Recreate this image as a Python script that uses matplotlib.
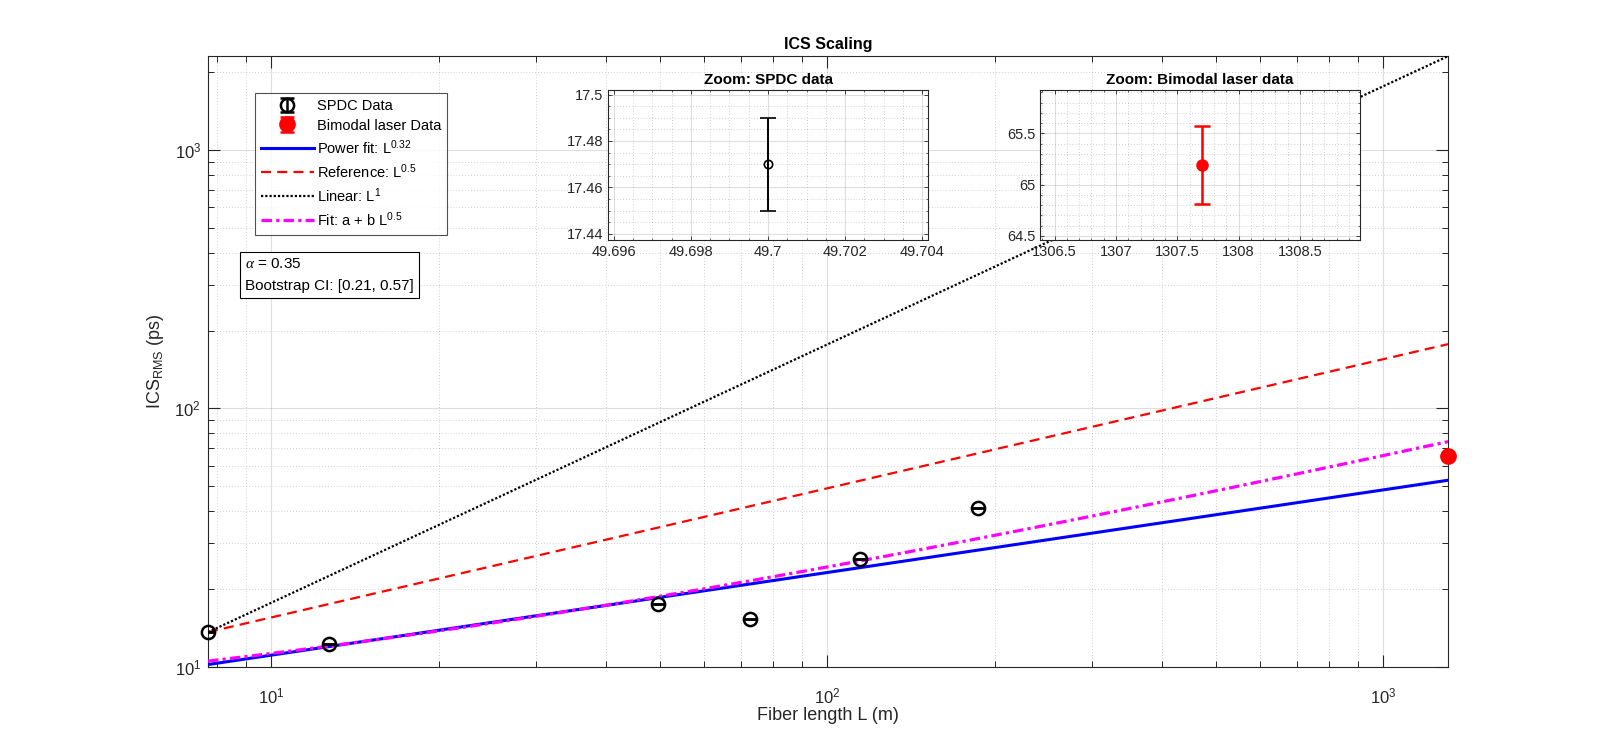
import numpy as np
import matplotlib
matplotlib.use("Agg")
import matplotlib.pyplot as plt
from matplotlib.ticker import LogLocator, AutoMinorLocator, NullFormatter, FixedLocator

plt.rcParams['font.family'] = ['Liberation Sans', 'DejaVu Sans']
plt.rcParams['mathtext.default'] = 'regular'
plt.rcParams['mathtext.fontset'] = 'custom'
plt.rcParams['mathtext.rm'] = 'Liberation Sans'
plt.rcParams['mathtext.it'] = 'Liberation Serif:italic'

# ---------------- data ----------------
L_spdc = [7.7, 12.7, 49.7, 72.7, 114.4, 186.8]
ics_spdc = [13.6, 12.25, 17.47, 15.3, 26.1, 41.1]
err_spdc = [0.02, 0.02, 0.02, 0.02, 0.02, 0.02]

L_bimodal = [1307.7]
ics_bimodal = [65.19]
err_bimodal = [0.38]

power_coef = 5.30
power_exp = 0.32
fit_a = 5.2
fit_b = 1.911

alpha_val = 0.35
ci_low, ci_high = 0.21, 0.57

AX_COL = '#262626'

fig = plt.figure(figsize=(16, 7.49), dpi=100)
ax = fig.add_axes([0.13, 0.11, 0.775, 0.815])

Lmin, Lmax = L_spdc[0], L_bimodal[0]
Lfit = np.logspace(np.log10(Lmin), np.log10(Lmax), 300)

y_power = power_coef * Lfit ** power_exp
y_ref = ics_spdc[0] * (Lfit / Lmin) ** 0.5
y_lin = ics_spdc[0] * (Lfit / Lmin) ** 1.0
y_fit = fit_a + fit_b * np.sqrt(Lfit)

h_spdc = ax.errorbar(L_spdc, ics_spdc, yerr=err_spdc, fmt='o', mfc='none', mec='k',
                     ecolor='k', ms=9.5, mew=1.8, elinewidth=1.8, capsize=5, capthick=1.8,
                     label='SPDC Data', zorder=5)
h_bim = ax.errorbar(L_bimodal, ics_bimodal, yerr=err_bimodal, fmt='o', mfc='r', mec='r',
                    ecolor='r', ms=11, elinewidth=1.8, capsize=5, capthick=1.8,
                    label='Bimodal laser Data', zorder=5)
h_bim.lines[0].set_clip_on(False)
for art in h_spdc.lines[0:1]:
    art.set_clip_on(False)

l1, = ax.plot(Lfit, y_power, '-', color='b', lw=2.2, label=r'Power fit: L$^{0.32}$', zorder=3)
l2, = ax.plot(Lfit, y_ref, '--', color='r', lw=1.6, dashes=(4.5, 2.8), label=r'Reference: L$^{0.5}$', zorder=3)
l3, = ax.plot(Lfit, y_lin, ':', color='k', lw=1.6, dashes=(1.0, 0.9), label=r'Linear: L$^{1}$', zorder=3)
l4, = ax.plot(Lfit, y_fit, color='#ff00ff', lw=2.3, dashes=(3.3, 1.3, 1.0, 1.3), label=r'Fit: a + b L$^{0.5}$', zorder=3)

ax.set_xscale('log')
ax.set_yscale('log')
ax.set_xlim(Lmin, Lmax)
ax.set_ylim(10, y_lin.max())

ax.xaxis.set_major_locator(LogLocator(base=10, numticks=10))
ax.yaxis.set_major_locator(LogLocator(base=10, numticks=10))
ax.xaxis.set_minor_locator(LogLocator(base=10, subs=np.arange(2, 10), numticks=20))
ax.yaxis.set_minor_locator(LogLocator(base=10, subs=np.arange(2, 10), numticks=20))
ax.xaxis.set_minor_formatter(NullFormatter())
ax.yaxis.set_minor_formatter(NullFormatter())

ax.grid(True, which='major', color=AX_COL, alpha=0.15, lw=0.8, ls='-')
ax.grid(True, which='minor', color=AX_COL, alpha=0.28, lw=0.6, ls=(0, (1, 2.5)))
ax.set_axisbelow(True)
ax.tick_params(which='both', direction='in', top=True, right=True, colors=AX_COL, labelsize=12)
ax.tick_params(which='major', length=8.5, width=0.8)
ax.tick_params(which='minor', length=4.3, width=0.7)
for s in ax.spines.values():
    s.set_color(AX_COL)
    s.set_linewidth(0.8)
ax.tick_params(axis='x', pad=14)
ax.tick_params(axis='y', pad=5)

ax.set_xlabel('Fiber length L (m)', fontsize=13, color=AX_COL, labelpad=1)
ax.set_ylabel(r'ICS$_{RMS}$ (ps)', fontsize=13, color=AX_COL, labelpad=6)
ax.set_title('ICS Scaling', fontsize=11.5, fontweight='bold', color='k', pad=5)

leg = ax.legend(handles=[h_spdc, h_bim, l1, l2, l3, l4], loc='upper left',
                bbox_to_anchor=(255 / 1600, 1 - 93 / 749), bbox_transform=fig.transFigure,
                fontsize=10.5, frameon=True, fancybox=False, edgecolor=AX_COL,
                handlelength=3.6, handletextpad=0.2, labelspacing=0.37, borderpad=0.42,
                borderaxespad=0)
leg.get_frame().set_linewidth(0.8)

fig.text(245 / 1600, 1 - 275 / 749,
         rf'$\mathit{{\alpha}}$ = {alpha_val:.2f}' + '\n' + f'Bootstrap CI: [{ci_low:.2f}, {ci_high:.2f}]',
         fontsize=11, va='center', ha='left', color='k', linespacing=1.7,
         bbox=dict(boxstyle='square,pad=0.35', fc='white', ec='k', lw=0.8), zorder=10)

# ---------------- insets ----------------
def style_inset(a):
    a.grid(True, which='major', color=AX_COL, alpha=0.15, lw=0.8)
    a.grid(True, which='minor', color=AX_COL, alpha=0.28, lw=0.6, ls=(0, (1, 2.5)))
    a.set_axisbelow(True)
    a.tick_params(which='both', direction='in', top=True, right=True, colors=AX_COL, labelsize=10.5)
    a.tick_params(which='major', length=3, width=0.6)
    a.tick_params(which='minor', length=1.5, width=0.5)
    for s in a.spines.values():
        s.set_color(AX_COL)
        s.set_linewidth(0.8)

ins1 = fig.add_axes([0.38, 0.68, 0.2, 0.2])
ins1.errorbar(L_spdc[2:3], ics_spdc[2:3], yerr=err_spdc[2:3], fmt='o', mfc='none', mec='k',
              ecolor='k', ms=6, mew=1.2, elinewidth=1.4, capsize=6, capthick=1.4)
ins1.set_xlim(L_spdc[2] - 0.00415, L_spdc[2] + 0.00415)
ins1.set_ylim(17.4375, 17.502)
ins1.xaxis.set_major_locator(FixedLocator([49.696, 49.698, 49.7, 49.702, 49.704]))
ins1.yaxis.set_major_locator(FixedLocator([17.44, 17.46, 17.48, 17.5]))
ins1.xaxis.set_major_formatter(plt.FuncFormatter(lambda v, p: f'{v:.3f}'.rstrip('0').rstrip('.')))
ins1.yaxis.set_major_formatter(plt.FuncFormatter(lambda v, p: f'{v:.2f}'.rstrip('0').rstrip('.')))
ins1.xaxis.set_minor_locator(AutoMinorLocator(4))
ins1.yaxis.set_minor_locator(AutoMinorLocator(4))
style_inset(ins1)
ins1.set_title('Zoom: SPDC data', fontsize=11, fontweight='bold', pad=4)

ins2 = fig.add_axes([0.65, 0.68, 0.2, 0.2])
ins2.errorbar(L_bimodal, ics_bimodal, yerr=err_bimodal, fmt='o', mfc='r', mec='r',
              ecolor='r', ms=8, elinewidth=1.8, capsize=6, capthick=1.8)
ins2.set_xlim(L_bimodal[0] - 1.32, L_bimodal[0] + 1.29)
ins2.set_ylim(64.464, 65.924)
ins2.xaxis.set_major_locator(FixedLocator([1306.5, 1307, 1307.5, 1308, 1308.5]))
ins2.yaxis.set_major_locator(FixedLocator([64.5, 65, 65.5]))
ins2.xaxis.set_major_formatter(plt.FuncFormatter(lambda v, p: f'{v:g}'))
ins2.yaxis.set_major_formatter(plt.FuncFormatter(lambda v, p: f'{v:g}'))
ins2.xaxis.set_minor_locator(AutoMinorLocator(5))
ins2.yaxis.set_minor_locator(AutoMinorLocator(5))
style_inset(ins2)
ins2.set_title('Zoom: Bimodal laser data', fontsize=11, fontweight='bold', pad=4)

fig.savefig('out.png', dpi=100)
